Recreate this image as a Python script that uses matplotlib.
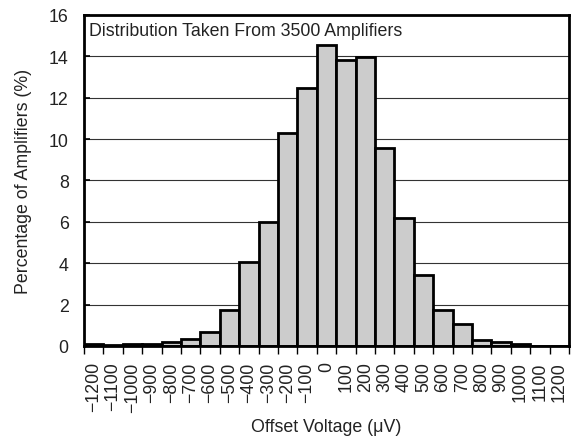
import matplotlib
matplotlib.use("Agg")
import matplotlib.pyplot as plt
import numpy as np

plt.rcParams['font.family'] = ['Liberation Sans', 'DejaVu Sans']

bin_centers = [-1200, -1100, -1000, -900, -800, -700, -600, -500, -400, -300, -200, -100,
               0, 100, 200, 300, 400, 500, 600, 700, 800, 900, 1000, 1100, 1200]
percentages = [0.1, 0.03, 0.08, 0.1, 0.2, 0.35, 0.7, 1.75, 4.05, 6.0, 10.3, 12.45,
               14.55, 13.8, 13.95, 9.55, 6.2, 3.45, 1.75, 1.05, 0.3, 0.18, 0.1, 0.0, 0.0]
tick_labels = ['\u22121200', '\u22121100', '\u22121000', '\u2212900', '\u2212800', '\u2212700',
               '\u2212600', '\u2212500', '\u2212400', '\u2212300', '\u2212200', '\u2212100',
               '0', '100', '200', '300', '400', '500', '600', '700', '800', '900',
               '1000', '1100', '1200']
y_ticks = [0, 2, 4, 6, 8, 10, 12, 14, 16]

FS = 12.8

fig = plt.figure(figsize=(5.71, 4.39), dpi=100)
ax = fig.add_axes([0.147, 0.2096, 0.8495, 0.754])

ax.bar(bin_centers, percentages, width=100, color='#cccccc', edgecolor='black',
       linewidth=2, zorder=3)

ax.set_xlim(-1250, 1250)
ax.set_ylim(0, 16)
ax.set_yticks(y_ticks)
ax.set_yticklabels([str(v) for v in y_ticks], fontsize=FS, color='#222222')
ax.tick_params(axis='y', length=4, width=1.2, direction='in', pad=11)

edges = np.arange(-1250, 1251, 100)
ax.set_xticks(edges)
ax.set_xticklabels([])
ax.set_xticks(bin_centers, minor=True)
ax.set_xticklabels(tick_labels, minor=True, rotation=90, fontsize=FS, color='#222222')
ax.tick_params(axis='x', which='major', length=6, width=1, direction='out')
ax.tick_params(axis='x', which='minor', length=0, pad=11)

ax.yaxis.grid(True, color='#333333', linewidth=0.8, zorder=0)
ax.set_axisbelow(True)
for s in ax.spines.values():
    s.set_linewidth(2)
    s.set_zorder(5)

ax.text(-1222, 15.25, 'Distribution Taken From 3500 Amplifiers', fontsize=FS,
        va='center', ha='left', color='#222222')

ax.set_ylabel('Percentage of Amplifiers (%)', fontsize=FS, labelpad=12, color='#222222')
ax.set_xlabel('Offset Voltage (\u03bcV)', fontsize=FS, labelpad=5, color='#222222')

fig.savefig('out.png', dpi=100)
